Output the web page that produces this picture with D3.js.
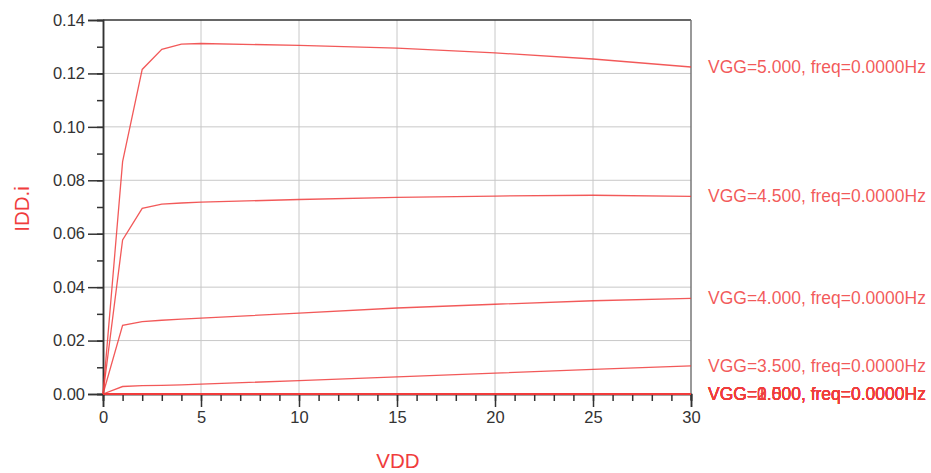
<!DOCTYPE html>
<html>
<head>
<meta charset="utf-8">
<script src="https://cdn.jsdelivr.net/npm/d3@7/dist/d3.min.js"></script>
<style>
  body { margin: 0; background: #fff; }
  text { font-family: "Liberation Sans", Arial, sans-serif; }
</style>
</head>
<body>
<script>
// sweep values
var vdd = [0, 1, 2, 3, 4, 5, 10, 15, 20, 25, 30];
var vggLevels = ["0.000", "0.500", "1.000", "1.500", "2.000", "2.500", "3.000", "3.500", "4.000", "4.500", "5.000"];
var zeroCurve = [0, 0, 0, 0, 0, 0, 0, 0, 0, 0, 0];
var idd35 = [0, 0.0028, 0.0031, 0.0032, 0.0034, 0.0037, 0.0050, 0.0064, 0.0078, 0.0092, 0.0105];
var idd40 = [0, 0.0257, 0.0271, 0.0276, 0.0280, 0.0284, 0.0303, 0.0322, 0.0336, 0.0349, 0.0358];
var idd45 = [0, 0.0577, 0.0695, 0.0711, 0.0715, 0.0718, 0.0728, 0.0736, 0.0741, 0.0744, 0.0740];
var idd50 = [0, 0.0870, 0.1215, 0.1290, 0.1310, 0.1312, 0.1305, 0.1295, 0.1277, 0.1254, 0.1224];
var xTicks = [0, 5, 10, 15, 20, 25, 30];
var yTicks = [0, 0.02, 0.04, 0.06, 0.08, 0.10, 0.12, 0.14];

var curves = [zeroCurve, zeroCurve, zeroCurve, zeroCurve, zeroCurve, zeroCurve, zeroCurve, idd35, idd40, idd45, idd50];

var W = 931, H = 473;
var pLeft = 103, pRight = 691, pTop = 20, pBottom = 394;
var red = "#f03c3c";

var svg = d3.select("body").append("svg")
            .attr("width", W)
            .attr("height", H);

var x = d3.scaleLinear().domain([0, 30]).range([pLeft, pRight]);
var y = d3.scaleLinear().domain([0, 0.14]).range([pBottom, pTop]);

// grid
svg.append("g").selectAll("line").data(xTicks.slice(1, -1)).enter().append("line")
   .attr("x1", function(d) { return x(d); }).attr("x2", function(d) { return x(d); })
   .attr("y1", pTop).attr("y2", pBottom)
   .attr("stroke", "#c8c8c8").attr("stroke-width", 1);
svg.append("g").selectAll("line").data(yTicks.slice(1, -1)).enter().append("line")
   .attr("x1", pLeft).attr("x2", pRight)
   .attr("y1", function(d) { return y(d); }).attr("y2", function(d) { return y(d); })
   .attr("stroke", "#c8c8c8").attr("stroke-width", 1);

// frame top + right
svg.append("line").attr("x1", pLeft).attr("x2", pRight).attr("y1", pTop).attr("y2", pTop)
   .attr("stroke", "#333").attr("stroke-width", 1.5);
svg.append("line").attr("x1", pRight).attr("x2", pRight).attr("y1", pTop).attr("y2", pBottom + 6)
   .attr("stroke", "#777").attr("stroke-width", 1.5);

// axes
var xAxis = d3.axisBottom(x).tickValues(xTicks).tickSize(13).tickPadding(4).tickFormat(d3.format("d"));
var xMinor = d3.axisBottom(x).tickValues(d3.range(0, 31)).tickSize(7).tickFormat("");
var yAxis = d3.axisLeft(y).tickValues(yTicks).tickSize(15).tickPadding(3).tickFormat(d3.format(".2f"));
var yMinor = d3.axisLeft(y).tickValues(d3.range(0, 0.141, 0.01)).tickSize(6).tickFormat("");

function styleAxis(g) {
  g.attr("font-size", 16.5).attr("font-family", "'Liberation Sans', Arial, sans-serif");
  g.select(".domain").attr("stroke", "#333").attr("stroke-width", 1.5);
  g.selectAll(".tick line").attr("stroke", "#333").attr("stroke-width", 1.5);
  g.selectAll("text").attr("fill", "#333");
}

svg.append("g").attr("transform", "translate(0," + pBottom + ")").call(xMinor).call(styleAxis);
svg.append("g").attr("transform", "translate(0," + pBottom + ")").call(xAxis).call(styleAxis);
svg.append("g").attr("transform", "translate(" + pLeft + ",0)").call(yMinor).call(styleAxis);
svg.append("g").attr("transform", "translate(" + pLeft + ",0)").call(yAxis).call(styleAxis);

// curves
var line = d3.line()
             .x(function(d, i) { return x(vdd[i]); })
             .y(function(d) { return y(d); });

svg.append("g").selectAll("path").data(curves).enter().append("path")
   .attr("d", line)
   .attr("fill", "none")
   .attr("stroke", red)
   .attr("stroke-opacity", 0.85)
   .attr("stroke-width", 1.3);

// end labels
svg.append("g").selectAll("text").data(curves).enter().append("text")
   .attr("x", pRight + 17)
   .attr("y", function(d) { return y(d[d.length - 1]) + 6; })
   .attr("fill", red)
   .attr("fill-opacity", 0.85)
   .style("font-size", "17.5px")
   .text(function(d, i) { return "VGG=" + vggLevels[i] + ", freq=0.0000Hz"; });

// axis titles
svg.append("text").attr("x", 398).attr("y", 468).attr("text-anchor", "middle")
   .attr("fill", red).style("font-size", "20.5px").text("VDD");
svg.append("text").attr("transform", "translate(29,209) rotate(-90)").attr("text-anchor", "middle")
   .attr("fill", red).style("font-size", "20.5px").text("IDD.i");
</script>
</body>
</html>
